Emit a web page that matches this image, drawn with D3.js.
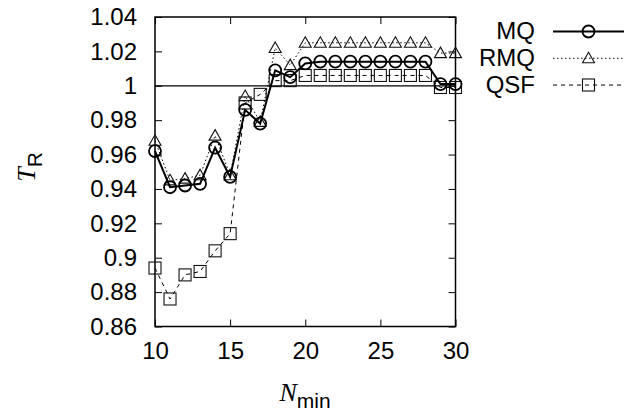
<!DOCTYPE html>
<html>
<head>
<meta charset="utf-8">
<script src="https://cdn.jsdelivr.net/npm/d3@7"></script>
<style>
  body { margin: 0; background: #fff; }
  svg text { font-family: "Liberation Sans", Arial, sans-serif; fill: #000; }
</style>
</head>
<body>
<div id="chart"></div>
<script>
// N_min values
const nmin = [10, 11, 12, 13, 14, 15, 16, 17, 18, 19, 20, 21, 22, 23, 24, 25, 26, 27, 28, 29, 30];

const mq  = [0.962, 0.941, 0.942, 0.943, 0.964, 0.947, 0.986, 0.978, 1.009, 1.005, 1.013, 1.014, 1.014, 1.014, 1.014, 1.014, 1.014, 1.014, 1.014, 1.001, 1.001];
const rmq = [0.968, 0.945, 0.946, 0.948, 0.971, 0.948, 0.994, 0.979, 1.022, 1.012, 1.025, 1.025, 1.025, 1.025, 1.025, 1.025, 1.025, 1.025, 1.025, 1.019, 1.019];
const qsf = [0.894, 0.876, 0.890, 0.892, 0.904, 0.914, 0.990, 0.995, 1.003, 1.003, 1.006, 1.006, 1.006, 1.006, 1.006, 1.006, 1.006, 1.006, 1.006, 0.999, 0.999];

const xTicks = [10, 15, 20, 25, 30];
const yTicks = [0.86, 0.88, 0.9, 0.92, 0.94, 0.96, 0.98, 1, 1.02, 1.04];

const seriesNames = ["MQ", "RMQ", "QSF"];

let width = 626, height = 414;
let margin = { top: 17, right: 170.5, bottom: 87.5, left: 155 };

let svg = d3.select("#chart")
    .append("svg")
    .attr("width", width)
    .attr("height", height);

let x = d3.scaleLinear()
    .domain([10, 30])
    .range([margin.left, width - margin.right]);

let y = d3.scaleLinear()
    .domain([0.86, 1.04])
    .range([height - margin.bottom, margin.top]);

let tickLen = 7;

// axes (ticks inward, mirrored)
let xAxis = d3.axisBottom(x).tickValues(xTicks).tickSize(-tickLen).tickPadding(15).tickFormat(d => d);
let yAxis = d3.axisLeft(y).tickValues(yTicks).tickSize(-tickLen).tickPadding(18)
    .tickFormat(d => String(+d.toFixed(2)));

svg.append("g")
    .attr("transform", "translate(0," + y.range()[0] + ")")
    .call(xAxis)
    .call(g => g.select(".domain").remove())
    .selectAll("text").style("font-size", "24px").attr("dy", "0.71em");

svg.append("g")
    .attr("transform", "translate(" + x.range()[0] + ",0)")
    .call(yAxis)
    .call(g => g.select(".domain").remove())
    .selectAll("text").style("font-size", "24px");

// mirrored ticks top/right
svg.append("g")
    .attr("transform", "translate(0," + y.range()[1] + ")")
    .call(d3.axisTop(x).tickValues(xTicks).tickSize(-tickLen).tickFormat(""))
    .call(g => g.select(".domain").remove());

svg.append("g")
    .attr("transform", "translate(" + x.range()[1] + ",0)")
    .call(d3.axisRight(y).tickValues(yTicks).tickSize(-tickLen).tickFormat(""))
    .call(g => g.select(".domain").remove());

svg.selectAll(".tick line").attr("stroke", "#000");

// frame
svg.append("rect")
    .attr("x", x.range()[0])
    .attr("y", y.range()[1])
    .attr("width", x.range()[1] - x.range()[0])
    .attr("height", y.range()[0] - y.range()[1])
    .attr("fill", "none")
    .attr("stroke", "#000")
    .attr("stroke-width", 1.5);

// y = 1 reference line
svg.append("line")
    .attr("x1", x(10)).attr("x2", x(30))
    .attr("y1", y(1)).attr("y2", y(1))
    .attr("stroke", "#000")
    .attr("stroke-width", 1.2);

let styles = {
    MQ:  { data: mq,  dash: null,      width: 2, symbol: "circle" },
    RMQ: { data: rmq, dash: "1.5,2.5", width: 1, symbol: "triangle" },
    QSF: { data: qsf, dash: "4,4",     width: 1, symbol: "square" }
};

function drawMarker(g, symbol, cx, cy) {
    if (symbol === "circle") {
        g.append("circle").attr("cx", cx).attr("cy", cy).attr("r", 6)
            .attr("fill", "none").attr("stroke", "#000").attr("stroke-width", 1.8);
    } else if (symbol === "triangle") {
        let s = 6;
        g.append("path")
            .attr("d", `M${cx},${cy - s}L${cx + s},${cy + s * 0.75}L${cx - s},${cy + s * 0.75}Z`)
            .attr("fill", "none").attr("stroke", "#111").attr("stroke-width", 1.1);
    } else {
        let s = 6;
        g.append("rect").attr("x", cx - s).attr("y", cy - s).attr("width", 2 * s).attr("height", 2 * s)
            .attr("fill", "none").attr("stroke", "#111").attr("stroke-width", 1.1);
    }
}

let line = d3.line()
    .x((d, i) => x(nmin[i]))
    .y(d => y(d));

// draw in reverse so MQ sits on top
["QSF", "RMQ", "MQ"].forEach(name => {
    let st = styles[name];
    let g = svg.append("g");
    g.append("path")
        .datum(st.data)
        .attr("d", line)
        .attr("fill", "none")
        .attr("stroke", "#000")
        .attr("stroke-width", st.width)
        .attr("stroke-dasharray", st.dash);
    st.data.forEach((v, i) => drawMarker(g, st.symbol, x(nmin[i]), y(v)));
});

// legend
let legend = svg.append("g");
seriesNames.forEach((name, i) => {
    let st = styles[name];
    let ly = 31.5 + i * 26.75;
    legend.append("text")
        .attr("x", 535)
        .attr("y", ly + 7.5)
        .attr("text-anchor", "end")
        .style("font-size", "24px")
        .text(name);
    legend.append("line")
        .attr("x1", 553).attr("x2", 624)
        .attr("y1", ly).attr("y2", ly)
        .attr("stroke", "#000")
        .attr("stroke-width", st.width)
        .attr("stroke-dasharray", st.dash);
    drawMarker(legend, st.symbol, 588.5, ly);
});

// axis labels
let xl = svg.append("text")
    .attr("x", 305)
    .attr("y", 401)
    .attr("text-anchor", "middle");
xl.append("tspan")
    .style("font-family", "'Liberation Serif', 'Times New Roman', serif")
    .style("font-style", "italic")
    .style("font-size", "26px")
    .text("N");
xl.append("tspan")
    .attr("dy", 7)
    .style("font-size", "21px")
    .text("min");

let yl = svg.append("text")
    .attr("transform", "translate(35,167) rotate(-90)")
    .attr("text-anchor", "middle");
yl.append("tspan")
    .style("font-family", "'Liberation Serif', 'Times New Roman', serif")
    .style("font-style", "italic")
    .style("font-size", "26px")
    .text("T");
yl.append("tspan")
    .attr("dy", 7)
    .style("font-size", "21px")
    .text("R");
</script>
</body>
</html>
